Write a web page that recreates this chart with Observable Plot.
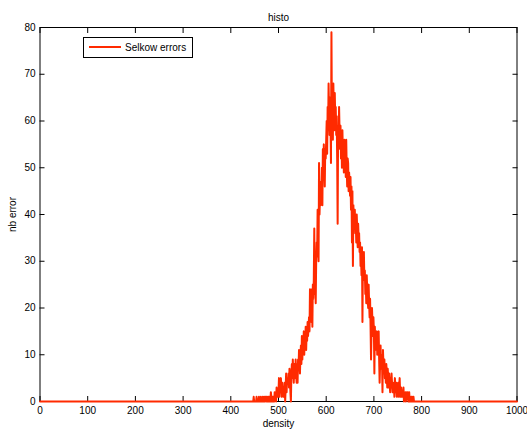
<!DOCTYPE html>
<html>
<head>
<meta charset="utf-8">
<script src="https://cdn.jsdelivr.net/npm/d3@7"></script>
<script src="https://cdn.jsdelivr.net/npm/@observablehq/plot@0.6"></script>
<style>
  html, body { margin: 0; padding: 0; background: white; }
</style>
</head>
<body>
<div id="chart"></div>
<script>
// Histogram of Selkow errors: counts per density value (bin width 1)
const title = "histo";
const xLabel = "density";
const yLabel = "nb error";
const seriesName = "Selkow errors";
const densityMin = 0;
const densityMax = 1000;
const firstCountDensity = 440; // counts below listed from this density on; all other bins are 0
const counts = [
  0,0,0,0,0,0,0,0,1,0,
  0,0,0,0,1,0,0,0,0,1,
  0,0,0,1,0,0,0,1,0,0,
  1,0,0,1,1,0,1,0,0,1,
  0,1,1,0,2,1,0,1,0,1,
  1,0,2,1,1,0,3,1,2,1,
  2,5,1,4,2,5,3,1,4,2,
  3,1,2,4,0,3,6,2,5,4,
  4,6,3,7,5,2,0,6,8,5,
  9,6,4,8,7,5,9,6,4,8,
  4,9,7,11,8,6,10,12,8,14,
  9,13,11,15,10,14,12,16,11,15,
  13,17,14,16,18,15,24,19,22,17,
  24,16,25,22,26,37,23,28,21,30,
  34,31,41,36,30,51,40,44,42,47,
  45,50,42,54,48,55,50,46,54,52,
  56,60,53,63,58,68,62,57,65,60,
  51,79,60,64,56,68,62,58,66,60,
  63,57,61,52,38,59,55,63,58,54,
  59,52,57,50,58,53,55,49,56,52,
  54,48,56,50,46,52,51,45,49,47,
  44,48,41,46,34,45,29,42,38,40,
  41,36,39,34,40,37,33,38,35,36,
  32,34,29,31,27,33,17,30,28,32,
  26,28,23,25,21,27,24,22,20,25,
  21,18,22,16,9,15,20,17,14,18,
  15,6,16,11,14,12,15,10,13,12,
  15,9,4,8,12,7,10,9,2,11,
  8,6,9,5,7,4,8,6,3,7,
  5,3,6,4,2,5,3,6,4,2,
  4,2,3,1,5,3,2,4,1,3,
  2,4,1,3,5,2,1,3,2,1,
  2,1,3,0,2,1,2,0,1,2,
  1,2,0,1,2,0,1,0,1,0,
  1,0,0,1,0,0,0,0,0,0
];
const xTicks = [0,100,200,300,400,500,600,700,800,900,1000];
const yTicks = [0,10,20,30,40,50,60,70,80];

const rows = d3.range(densityMin, densityMax + 1).map(d => {
  const i = d - firstCountDensity;
  return {density: d, count: (i >= 0 && i < counts.length) ? counts[i] : 0};
});

const red = "#ff2a00";
const font = "'Liberation Sans', Arial, Helvetica, sans-serif";
const fmt = d => String(d);

const chart = Plot.plot({
  width: 527,
  height: 430,
  marginLeft: 39.5,
  marginRight: 10.5,
  marginTop: 27,
  marginBottom: 29,
  style: {fontFamily: font, fontSize: "10px", background: "white", color: "black", overflow: "visible"},
  x: {domain: [densityMin, densityMax]},
  y: {domain: [0, 80]},
  marks: [
    // inward tick marks on all four sides
    Plot.axisX(xTicks, {anchor: "bottom", tickSize: 5, dy: -5, tickFormat: () => "", label: null}),
    Plot.axisX(xTicks, {anchor: "top", tickSize: 5, dy: 5, tickFormat: () => "", label: null}),
    Plot.axisY(yTicks, {anchor: "left", tickSize: 5, dx: 5, tickFormat: () => "", label: null}),
    Plot.axisY(yTicks, {anchor: "right", tickSize: 5, dx: -5, tickFormat: () => "", label: null}),
    // tick labels and axis titles
    Plot.axisX(xTicks, {anchor: "bottom", tickSize: 0, tickPadding: 5.5, tickFormat: fmt, label: xLabel, labelAnchor: "center", labelOffset: 25.5, labelArrow: "none"}),
    Plot.axisY(yTicks, {anchor: "left", tickSize: 0, tickPadding: 4.5, tickFormat: fmt, label: yLabel, labelAnchor: "center", labelOffset: 31.5, labelArrow: "none"}),
    Plot.frame({stroke: "black", strokeWidth: 1}),
    Plot.line(rows, {x: "density", y: "count", stroke: red, strokeWidth: 2}),
    Plot.text([title], {frameAnchor: "top", lineAnchor: "bottom", dy: -7, fontSize: 10, fill: "black"})
  ]
});

document.getElementById("chart").appendChild(chart);

// legend box inside the axes (top-left)
const svg = d3.select(chart);
const lg = svg.append("g").attr("font-family", font).attr("font-size", 10).attr("text-anchor", "start");
lg.append("rect").attr("x", 83.5).attr("y", 37.5).attr("width", 109).attr("height", 20)
  .attr("fill", "white").attr("stroke", "black").attr("stroke-width", 1);
lg.append("line").attr("x1", 89).attr("x2", 121).attr("y1", 47).attr("y2", 47)
  .attr("stroke", red).attr("stroke-width", 2);
lg.append("text").attr("x", 125).attr("y", 47).attr("dy", "0.35em").attr("fill", "black")
  .attr("text-anchor", "start").text(seriesName);
</script>
</body>
</html>
